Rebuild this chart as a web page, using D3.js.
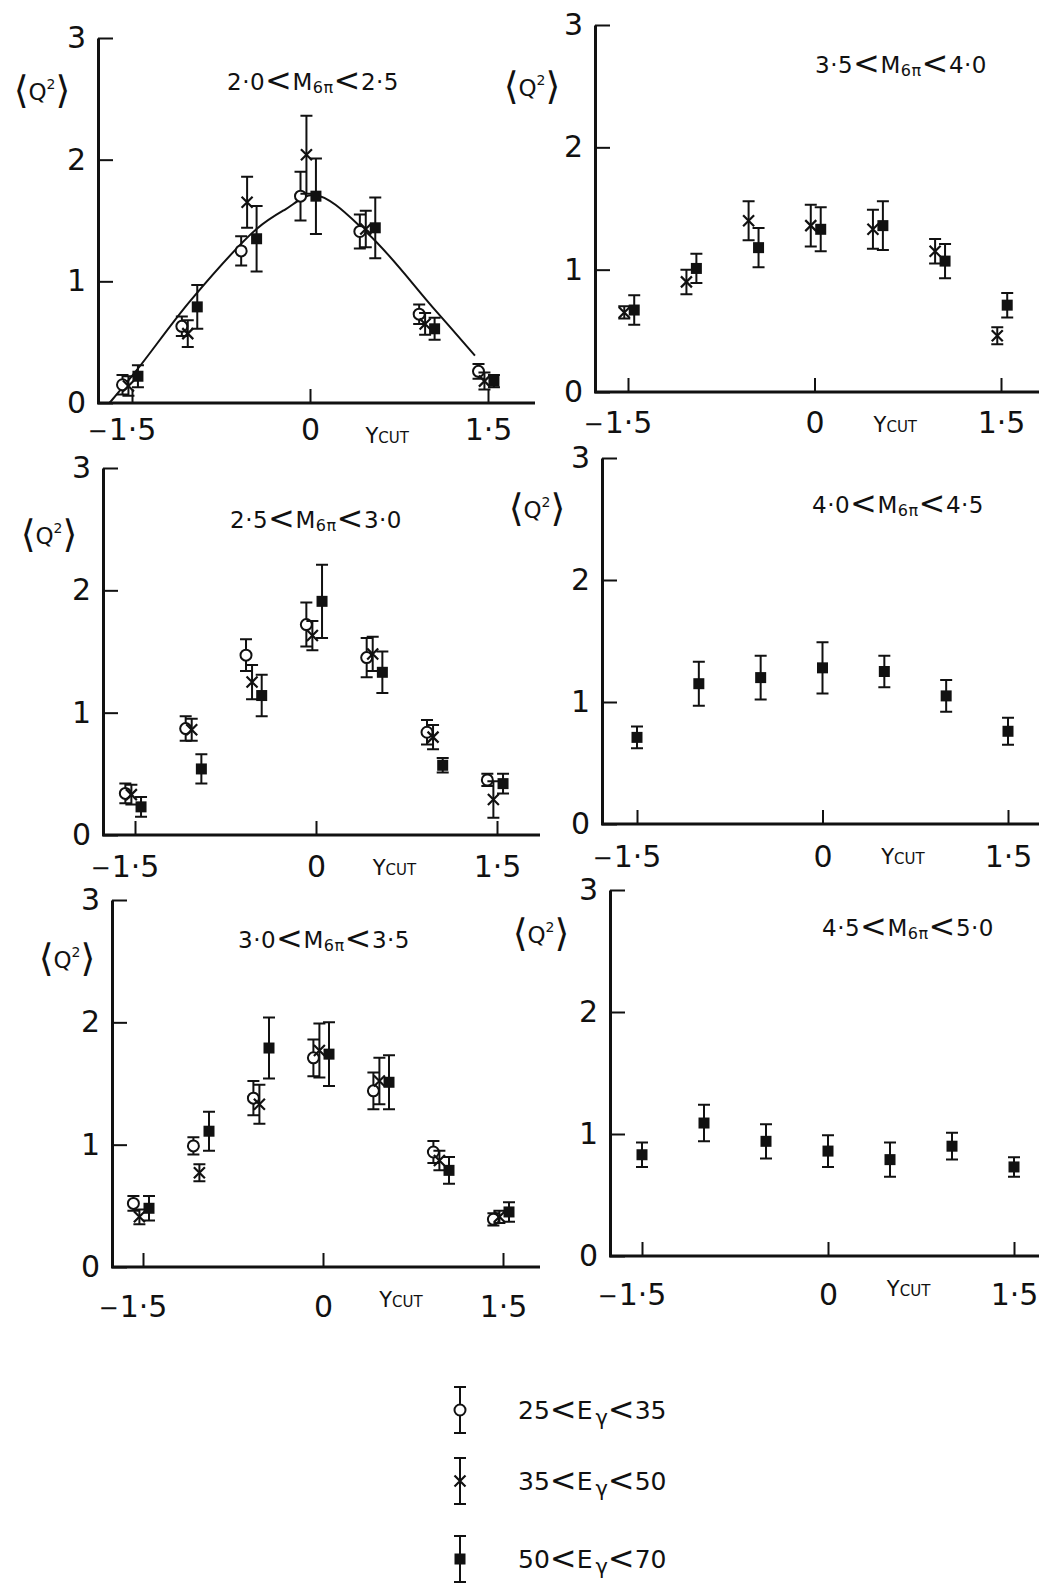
<!DOCTYPE html>
<html>
<head>
<meta charset="utf-8">
<script src="https://cdn.jsdelivr.net/npm/d3@7"></script>
<style>
body { margin: 0; background: #fff; }
svg text { font-family: "DejaVu Sans", sans-serif; fill: #111; }
</style>
</head>
<body>
<div id="chart"></div>
<script>
// Ycut bins and ticks
const ycut = [-1.5, -1, -0.5, 0, 0.5, 1, 1.5];
const yTicks = [0, 1, 2, 3];
const xTicks = [-1.5, 0, 1.5];
const massLo = ["2·0", "3·5", "2·5", "4·0", "3·0", "4·5"];
const massHi = ["2·5", "4·0", "3·0", "4·5", "3·5", "5·0"];
const egLo = ["25", "35", "50"];
const egHi = ["35", "50", "70"];

// 2.0 < M < 2.5
const p1Open = [0.15, 0.63, 1.25, 1.70, 1.41, 0.73, 0.26];
const p1OpenErr = [0.08, 0.08, 0.12, 0.20, 0.14, 0.08, 0.06];
const p1Cross = [0.14, 0.57, 1.65, 2.04, 1.43, 0.65, 0.18];
const p1CrossErr = [0.08, 0.11, 0.21, 0.32, 0.15, 0.09, 0.07];
const p1Sq = [0.22, 0.79, 1.35, 1.70, 1.44, 0.61, 0.18];
const p1SqErr = [0.09, 0.18, 0.27, 0.31, 0.25, 0.09, 0.05];
const curveX = [-1.69, -1.46, -1.0, -0.45, -0.21, 0.04, 0.48, 1.04, 1.39];
const curveY = [0, 0.27, 0.85, 1.43, 1.59, 1.71, 1.40, 0.78, 0.39];

// 3.5 < M < 4.0
const p2Cross = [0.65, 0.90, 1.40, 1.36, 1.33, 1.15, 0.46];
const p2CrossErr = [0.05, 0.10, 0.16, 0.17, 0.16, 0.10, 0.07];
const p2Sq = [0.67, 1.01, 1.18, 1.33, 1.36, 1.07, 0.71];
const p2SqErr = [0.12, 0.12, 0.16, 0.18, 0.20, 0.14, 0.10];

// 2.5 < M < 3.0
const p3Open = [0.34, 0.87, 1.47, 1.72, 1.45, 0.84, 0.45];
const p3OpenErr = [0.08, 0.10, 0.13, 0.18, 0.16, 0.10, 0.05];
const p3Cross = [0.33, 0.86, 1.25, 1.63, 1.48, 0.80, 0.29];
const p3CrossErr = [0.08, 0.09, 0.14, 0.12, 0.14, 0.10, 0.15];
const p3Sq = [0.23, 0.54, 1.14, 1.91, 1.33, 0.57, 0.42];
const p3SqErr = [0.08, 0.12, 0.17, 0.30, 0.17, 0.06, 0.08];

// 4.0 < M < 4.5
const p4Sq = [0.71, 1.15, 1.20, 1.28, 1.25, 1.05, 0.76];
const p4SqErr = [0.09, 0.18, 0.18, 0.21, 0.13, 0.13, 0.11];

// 3.0 < M < 3.5
const p5Open = [0.52, 0.99, 1.38, 1.71, 1.44, 0.94, 0.39];
const p5OpenErr = [0.06, 0.07, 0.14, 0.15, 0.15, 0.09, 0.05];
const p5Cross = [0.41, 0.77, 1.33, 1.77, 1.52, 0.87, 0.41];
const p5CrossErr = [0.06, 0.07, 0.16, 0.22, 0.19, 0.08, 0.05];
const p5Sq = [0.48, 1.11, 1.79, 1.74, 1.51, 0.79, 0.45];
const p5SqErr = [0.10, 0.16, 0.25, 0.26, 0.22, 0.11, 0.08];

// 4.5 < M < 5.0
const p6Sq = [0.83, 1.09, 0.94, 0.86, 0.79, 0.90, 0.73];
const p6SqErr = [0.10, 0.15, 0.14, 0.13, 0.14, 0.11, 0.08];

const panels = [
    { open: [p1Open, p1OpenErr], cross: [p1Cross, p1CrossErr], square: [p1Sq, p1SqErr], curve: true },
    { cross: [p2Cross, p2CrossErr], square: [p2Sq, p2SqErr] },
    { open: [p3Open, p3OpenErr], cross: [p3Cross, p3CrossErr], square: [p3Sq, p3SqErr] },
    { square: [p4Sq, p4SqErr] },
    { open: [p5Open, p5OpenErr], cross: [p5Cross, p5CrossErr], square: [p5Sq, p5SqErr] },
    { square: [p6Sq, p6SqErr] }
];

// pixel layout of each panel: y axis, x(-1.5), x(1.5), right end, y(3), y(0)
const layout = [
    { ax: 98, xm: 132, xp: 488, right: 535, y3: 38, y0: 403, lab: 37, tx: 227, ty: 90, qx: 42, qy: 92 },
    { ax: 595, xm: 628, xp: 1001, right: 1039, y3: 25, y0: 392, lab: 41, tx: 815, ty: 73, qx: 532, qy: 88 },
    { ax: 103, xm: 135, xp: 497, right: 540, y3: 468, y0: 835, lab: 42, tx: 230, ty: 528, qx: 49, qy: 536 },
    { ax: 602, xm: 637, xp: 1008, right: 1039, y3: 458, y0: 824, lab: 43, tx: 812, ty: 513, qx: 537, qy: 510 },
    { ax: 112, xm: 143, xp: 503, right: 540, y3: 900, y0: 1267, lab: 50, tx: 238, ty: 948, qx: 67, qy: 960 },
    { ax: 610, xm: 642, xp: 1014, right: 1039, y3: 890, y0: 1256, lab: 49, tx: 822, ty: 936, qx: 541, qy: 935 }
];

const dodge = { open: -0.08, cross: -0.03, square: 0.05 };

const svg = d3.select("#chart").append("svg")
    .attr("width", 1039)
    .attr("height", 1589);

function drawMarker(g, kind, cx, cy) {
    if (kind == "open") {
        g.append("circle").attr("cx", cx).attr("cy", cy).attr("r", 5.5)
            .attr("fill", "#fff").attr("stroke", "#111").attr("stroke-width", 2);
    } else if (kind == "cross") {
        const s = 5.5;
        g.append("path")
            .attr("d", "M" + (cx - s) + "," + (cy - s) + "L" + (cx + s) + "," + (cy + s) +
                "M" + (cx - s) + "," + (cy + s) + "L" + (cx + s) + "," + (cy - s))
            .attr("stroke", "#111").attr("stroke-width", 2.2);
    } else {
        g.append("rect").attr("x", cx - 5.5).attr("y", cy - 5.5)
            .attr("width", 11).attr("height", 11).attr("fill", "#111");
    }
}

function errBar(g, cx, yTop, yBot) {
    g.append("path")
        .attr("d", "M" + cx + "," + yTop + "V" + yBot +
            "M" + (cx - 6) + "," + yTop + "H" + (cx + 6) +
            "M" + (cx - 6) + "," + yBot + "H" + (cx + 6))
        .attr("stroke", "#111").attr("stroke-width", 2).attr("fill", "none");
}

function massTitle(g, x, y, lo, hi) {
    const t = g.append("text").attr("x", x).attr("y", y).attr("font-size", 23)
        .attr("letter-spacing", 0.5);
    t.append("tspan").text(lo);
    t.append("tspan").attr("font-size", 32).attr("dy", 1).text("<");
    t.append("tspan").attr("dy", -1).text("M");
    t.append("tspan").attr("font-size", 16).attr("dy", 3).text("6π");
    t.append("tspan").attr("font-size", 32).attr("dy", -2).text("<");
    t.append("tspan").attr("dy", -1).text(hi);
}

panels.forEach(function(p, i) {
    const L = layout[i];
    const x = d3.scaleLinear().domain([-1.5, 1.5]).range([L.xm, L.xp]);
    const y = d3.scaleLinear().domain([0, 3]).range([L.y0, L.y3]);
    const g = svg.append("g");

    // y axis
    const ya = g.append("g").attr("transform", "translate(" + L.ax + ",0)")
        .call(d3.axisLeft(y).tickValues(yTicks).tickSize(-15).tickSizeOuter(0).tickPadding(12).tickFormat(d3.format("d")));
    ya.select(".domain").attr("stroke", "#111").attr("stroke-width", 3);
    ya.selectAll(".tick line").attr("stroke", "#111").attr("stroke-width", 2);
    ya.selectAll(".tick text").attr("font-size", 30).attr("font-family", "DejaVu Sans").attr("fill", "#111");

    // x axis
    const xa = g.append("g").attr("transform", "translate(0," + L.y0 + ")")
        .call(d3.axisBottom(x).tickValues(xTicks).tickSize(-14).tickSizeOuter(0).tickPadding(L.lab - 21)
            .tickFormat(function(d) { return d == 0 ? "0" : "1·5"; }));
    xa.select(".domain").remove();
    xa.append("line").attr("x1", L.ax - 1).attr("x2", L.right).attr("y1", 0).attr("y2", 0)
        .attr("stroke", "#111").attr("stroke-width", 3);
    xa.selectAll(".tick line").attr("stroke", "#111").attr("stroke-width", 2);
    xa.selectAll(".tick text").attr("font-size", 30).attr("font-family", "DejaVu Sans").attr("fill", "#111");
    xa.selectAll(".tick").filter(function(d) { return d < 0; }).each(function() {
        const lbl = d3.select(this).select("text");
        const w = lbl.node().getComputedTextLength();
        d3.select(this).append("text")
            .attr("x", -w / 2 - 1).attr("y", L.lab - 21).attr("dy", "0.85em")
            .attr("text-anchor", "end").attr("font-size", 24).attr("fill", "#111")
            .text("−");
    });

    // Ycut label
    const yc = g.append("text").attr("x", x(0.65)).attr("y", L.y0 + 40)
        .attr("text-anchor", "middle").attr("font-size", 21);
    yc.append("tspan").text("Y");
    yc.append("tspan").attr("font-size", 15).text("CUT");

    // <Q^2> label
    const q = g.append("text").attr("x", L.qx).attr("y", L.qy + 8)
        .attr("text-anchor", "middle").attr("font-size", 23);
    q.append("tspan").attr("font-size", 38).attr("dy", 3).text("⟨");
    q.append("tspan").attr("dy", -3).text("Q");
    q.append("tspan").attr("font-size", 14).attr("dy", -11).text("2");
    q.append("tspan").attr("font-size", 38).attr("dy", 14).text("⟩");

    massTitle(g, L.tx, L.ty, massLo[i], massHi[i]);

    if (p.curve) {
        const pts = curveX.map(function(v, k) { return [v, curveY[k]]; });
        g.append("path")
            .attr("d", d3.line().x(function(d) { return x(d[0]); }).y(function(d) { return y(d[1]); })
                .curve(d3.curveCatmullRom.alpha(0.5))(pts))
            .attr("fill", "none").attr("stroke", "#111").attr("stroke-width", 2);
    }

    const kinds = ["open", "cross", "square"].filter(function(k) { return p[k]; });
    const single = kinds.length == 1;
    kinds.forEach(function(k) {
        const vals = p[k][0], errs = p[k][1];
        vals.forEach(function(v, j) {
            const cx = x(ycut[j] + (single ? 0 : dodge[k]));
            errBar(g, cx, y(v + errs[j]), y(v - errs[j]));
            drawMarker(g, k, cx, y(v));
        });
    });
});

// legend
const legY = [1410, 1481, 1559];
const kindsL = ["open", "cross", "square"];
const lg = svg.append("g");
kindsL.forEach(function(k, i) {
    errBar(lg, 460, legY[i] - 23, legY[i] + 23);
    drawMarker(lg, k, 460, legY[i]);
    const t = lg.append("text").attr("x", 518).attr("y", legY[i] + 9).attr("font-size", 25);
    t.append("tspan").text(egLo[i]);
    t.append("tspan").attr("font-size", 32).attr("dy", 1).text("<");
    t.append("tspan").attr("dy", -1).text("E");
    t.append("tspan").attr("font-size", 21).attr("dx", 3).attr("dy", 6).text("γ");
    t.append("tspan").attr("font-size", 32).attr("dy", -5).text("<");
    t.append("tspan").attr("dy", -1).text(egHi[i]);
});
</script>
</body>
</html>
